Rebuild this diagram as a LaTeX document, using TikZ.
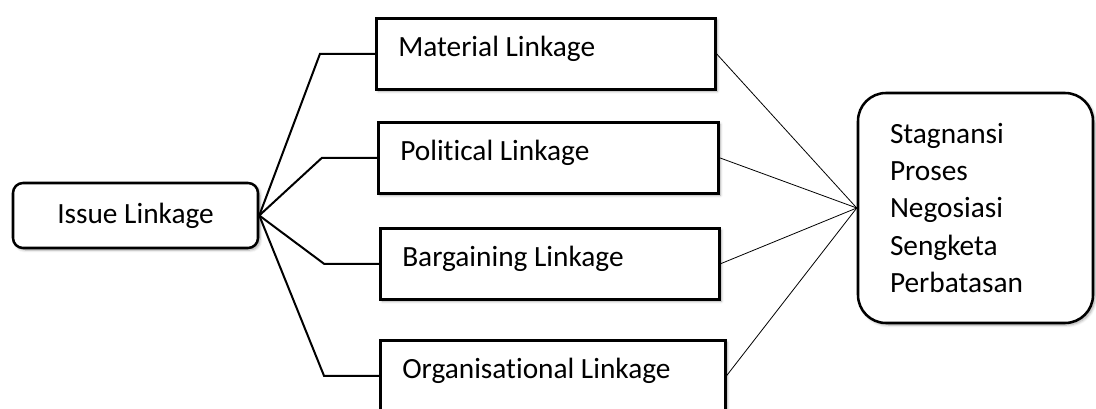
\documentclass[tikz,border=0pt]{standalone}
\usepackage{fontspec}
\setmainfont{Carlito}[Ligatures={NoCommon}]
\usetikzlibrary{shadows.blur}

\begin{document}
\begin{tikzpicture}[x=0.75pt, y=-0.75pt,
    every node/.style={font=\fontsize{22}{28.1}\selectfont},
    softshadow/.style={blur shadow={shadow xshift=1.5pt, shadow yshift=-1.5pt,
      shadow blur steps=6, shadow blur radius=2pt, shadow opacity=35}},
    linkbox/.style={draw, line width=1.9pt, fill=white, softshadow,
      anchor=north west, align=flush left, text width=#1,
      inner xsep=16.5pt, inner ysep=0pt, text height=28.9pt, text depth=24.35pt},
    fan/.style={line width=1.5pt},
    feed/.style={line width=0.6pt}]
  \useasboundingbox (0,0) rectangle (1096,409);

  % source
  \node[draw, line width=1.9pt, fill=white, softshadow, rounded corners=7.5pt,
        minimum width=183.75pt, minimum height=48.75pt] (issue) at (135.5,215.5) {Issue Linkage};

  % the four kinds of linkage
  \node[linkbox=221.25pt] (material) at (375,17) {Material Linkage};
  \node[linkbox=222pt] (political) at (377,121) {Political Linkage};
  \node[linkbox=221.25pt] (bargaining) at (379,227) {Bargaining Linkage};
  \node[linkbox=225.75pt] (organisational) at (379,339) {Organisational Linkage};

  % outcome
  \node[draw, line width=1.9pt, fill=white, softshadow, rounded corners=21pt,
        minimum width=176.25pt, minimum height=172.5pt, align=flush left,
        text width=128.25pt, inner xsep=24pt] (result) at (975.5,208)
        {Stagnansi\\Proses\\Negosiasi\\Sengketa\\Perbatasan};

  \foreach \b in {material,political,bargaining,organisational} {
    \draw[fan] (issue.east) -- ([xshift=-41.25pt]\b.west) -- (\b.west);
    \draw[feed] (\b.east) -- (result.west);
  }
\end{tikzpicture}
\end{document}
